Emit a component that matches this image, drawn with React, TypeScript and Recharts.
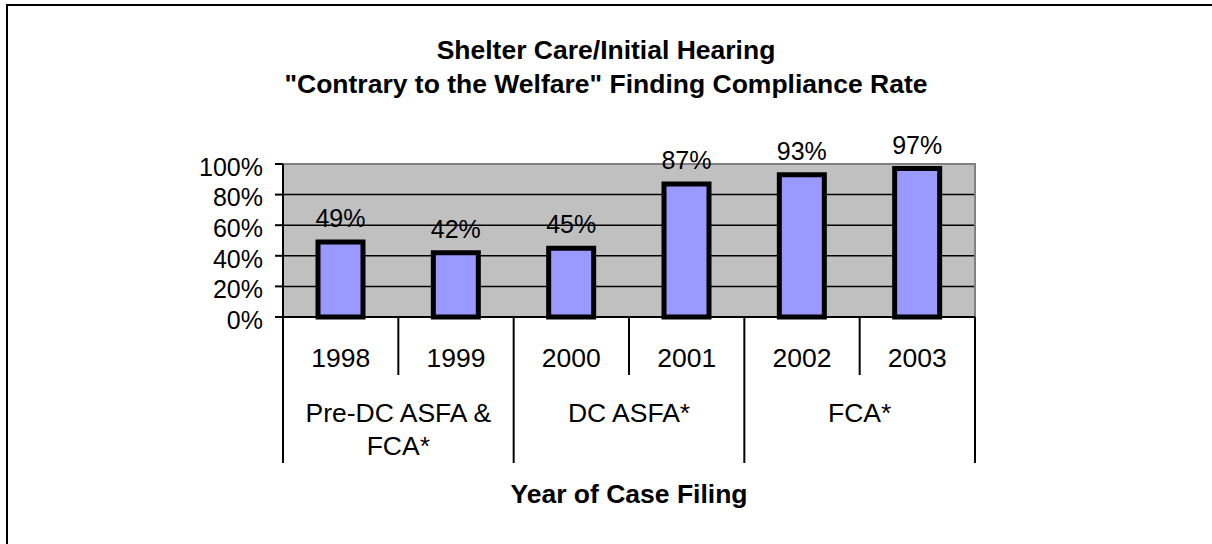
import { BarChart, Bar, XAxis, YAxis, CartesianGrid, LabelList, ReferenceArea } from 'recharts'

const years = ['1998', '1999', '2000', '2001', '2002', '2003']
const complianceRate = [49, 42, 45, 87, 93, 97]
const periodOfYear = [0, 0, 1, 1, 2, 2]
const periodLabels = [['Pre-DC ASFA &', 'FCA*'], ['DC ASFA*'], ['FCA*']]
const rateTicks = [0, 20, 40, 60, 80, 100]

const titleLines = ['Shelter Care/Initial Hearing', '"Contrary to the Welfare" Finding Compliance Rate']
const axisTitle = 'Year of Case Filing'

const W = 1212
const H = 544
const PLOT_LEFT = 283
const PLOT_RIGHT = 975
const PLOT_TOP = 164
const PLOT_BOTTOM = 317
const BAND = (PLOT_RIGHT - PLOT_LEFT) / years.length
const FONT = '"Liberation Sans", Arial, sans-serif'

const data = years.map((year, i) => ({ year, rate: complianceRate[i] }))

// year label + separators, and the period label under the first year of each period
function YearTick(props: any) {
  const { x, y, index } = props
  const year = years[index]
  const left = x - BAND / 2
  const p = periodOfYear[index]
  const startsPeriod = index === 0 || periodOfYear[index - 1] !== p
  const isLast = index === years.length - 1
  const span = periodOfYear.filter(q => q === p).length
  const groupCenter = left + (span * BAND) / 2
  const lines = periodLabels[p]
  return (
    <g>
      <line x1={left} x2={left} y1={y} y2={y + (startsPeriod ? 146 : 58)} stroke="#000" strokeWidth={2} />
      {isLast && <line x1={x + BAND / 2} x2={x + BAND / 2} y1={y} y2={y + 146} stroke="#000" strokeWidth={2} />}
      <text x={x} y={y + 50} textAnchor="middle" fontSize={26.5} fontFamily={FONT} fill="#000">{year}</text>
      {startsPeriod && lines.map((t, k) => (
        <text key={k} x={groupCenter} y={y + 105 + k * 33} textAnchor="middle" fontSize={26.5} fontFamily={FONT} fill="#000">{t}</text>
      ))}
    </g>
  )
}

export default function App() {
  return (
    <div style={{ position: 'absolute', left: 0, top: 0, width: W, height: H, background: '#fff', fontFamily: FONT, overflow: 'hidden' }}>
      <div style={{ position: 'absolute', left: 6, top: 4, width: W, height: H, borderTop: '2px solid #000', borderLeft: '2px solid #000' }} />
      <div style={{ position: 'absolute', left: 0, width: W, top: 33, textAlign: 'center', fontWeight: 'bold', fontSize: 26.5, lineHeight: '34px', color: '#000' }}>
        {titleLines.map((t, i) => <div key={i}>{t}</div>)}
      </div>
      <BarChart
        width={W}
        height={H}
        data={data}
        margin={{ top: PLOT_TOP, right: W - PLOT_RIGHT, bottom: 0, left: 0 }}
      >
        <CartesianGrid vertical={false} stroke="#000" strokeWidth={1.5} fill="#C0C0C0" fillOpacity={1} />
        <ReferenceArea y1={0} y2={100} fill="none" stroke="#808080" strokeWidth={2} />
        <XAxis
          dataKey="year"
          height={H - PLOT_BOTTOM}
          tick={<YearTick />}
          tickLine={false}
          tickSize={0}
          tickMargin={0}
          interval={0}
          axisLine={{ stroke: '#000', strokeWidth: 2 }}
        />
        <YAxis
          width={PLOT_LEFT}
          domain={[0, 100]}
          ticks={rateTicks}
          interval={0}
          tickFormatter={(v: number) => `${v}%`}
          tick={{ fontSize: 25, fill: '#000', fontFamily: FONT, dy: 3 }}
          tickSize={8}
          tickMargin={12}
          tickLine={{ stroke: '#000', strokeWidth: 2 }}
          axisLine={{ stroke: '#000', strokeWidth: 2 }}
        />
        <Bar dataKey="rate" fill="#9999FF" stroke="#000" strokeWidth={5} barSize={45} isAnimationActive={false}>
          <LabelList dataKey="rate" position="top" offset={15} formatter={(v: any) => `${v}%`} fontSize={25} fill="#000" fontFamily={FONT} />
        </Bar>
      </BarChart>
      <div style={{ position: 'absolute', left: PLOT_LEFT, width: PLOT_RIGHT - PLOT_LEFT, top: 480, textAlign: 'center', fontWeight: 'bold', fontSize: 26.5, lineHeight: '28px', color: '#000' }}>
        {axisTitle}
      </div>
    </div>
  )
}
